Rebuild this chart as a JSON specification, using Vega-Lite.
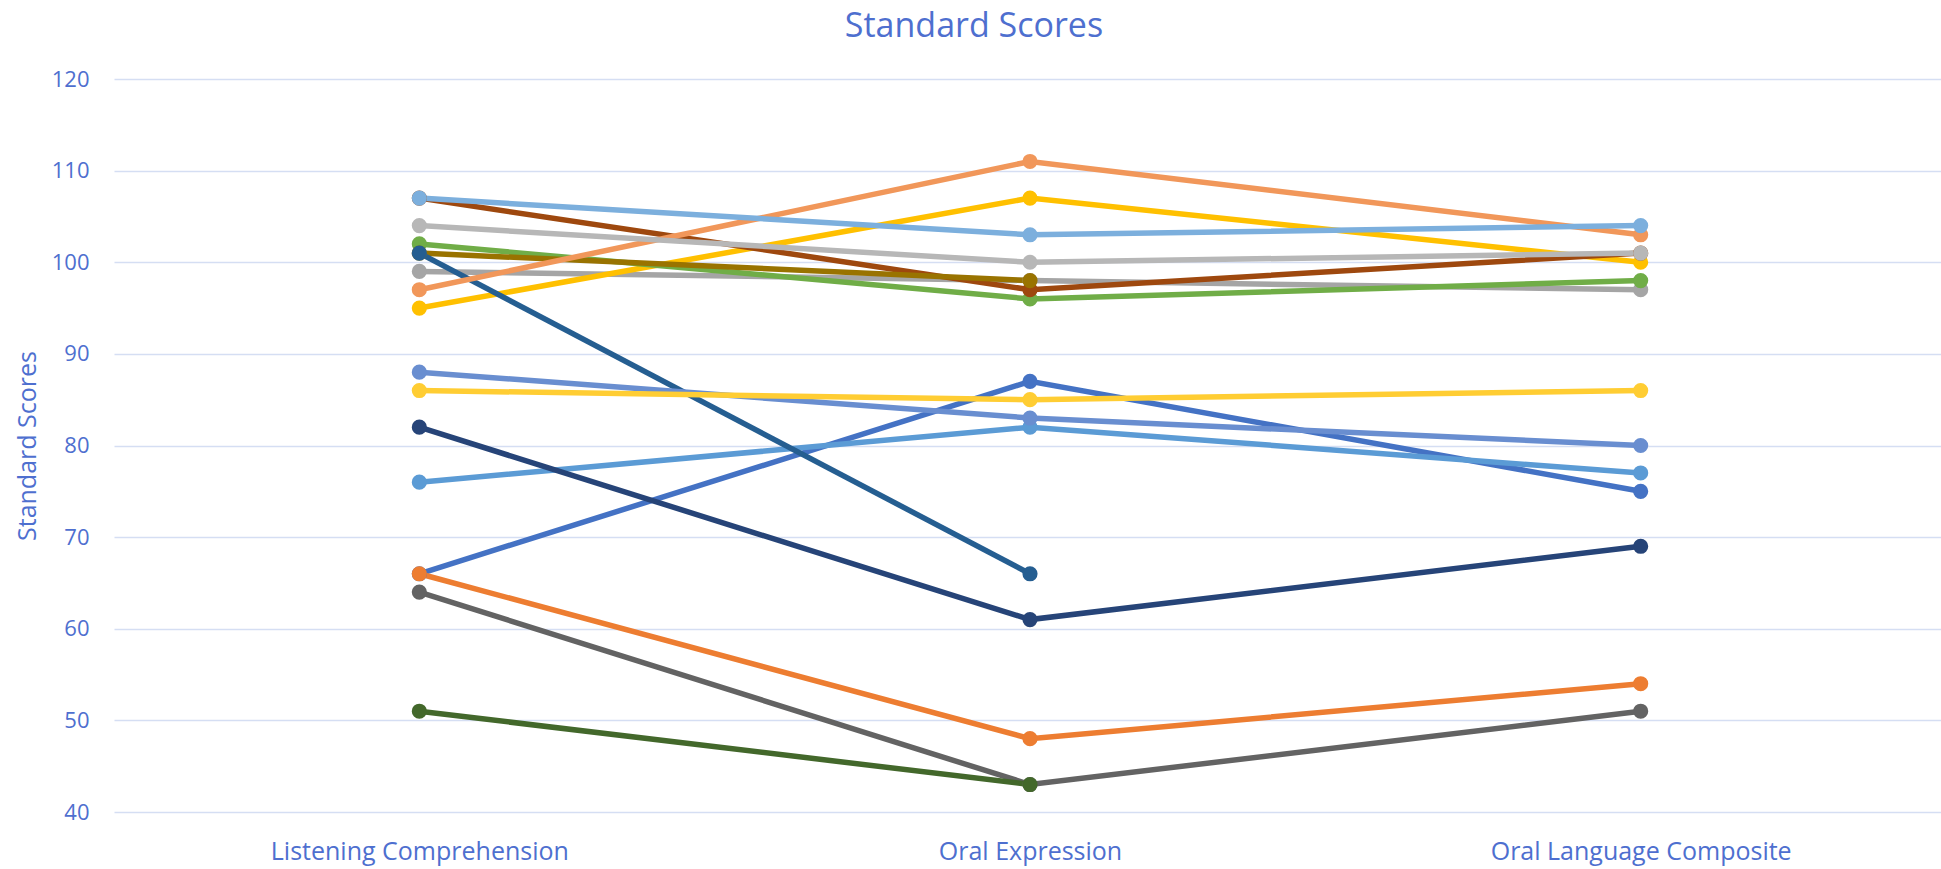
{
  "$schema": "https://vega.github.io/schema/vega-lite/v6.json",
  "autosize": {"type": "none"},
  "padding": {"left": 114, "top": 79, "right": 0, "bottom": 57},
  "width": 1832,
  "height": 733,
  "background": "white",
  "title": {
    "text": "Standard Scores",
    "font": "Open Sans",
    "fontSize": 34,
    "fontWeight": "normal",
    "color": "#4E6FCF",
    "anchor": "middle",
    "frame": "group",
    "dx": -56,
    "offset": 24
  },
  "data": {
    "values": [
      {"series": "Series 1", "test": "Listening Comprehension", "score": 66},
      {"series": "Series 1", "test": "Oral Expression", "score": 87},
      {"series": "Series 1", "test": "Oral Language Composite", "score": 75},
      {"series": "Series 2", "test": "Listening Comprehension", "score": 66},
      {"series": "Series 2", "test": "Oral Expression", "score": 48},
      {"series": "Series 2", "test": "Oral Language Composite", "score": 54},
      {"series": "Series 3", "test": "Listening Comprehension", "score": 99},
      {"series": "Series 3", "test": "Oral Expression", "score": 98},
      {"series": "Series 3", "test": "Oral Language Composite", "score": 97},
      {"series": "Series 4", "test": "Listening Comprehension", "score": 95},
      {"series": "Series 4", "test": "Oral Expression", "score": 107},
      {"series": "Series 4", "test": "Oral Language Composite", "score": 100},
      {"series": "Series 5", "test": "Listening Comprehension", "score": 76},
      {"series": "Series 5", "test": "Oral Expression", "score": 82},
      {"series": "Series 5", "test": "Oral Language Composite", "score": 77},
      {"series": "Series 6", "test": "Listening Comprehension", "score": 102},
      {"series": "Series 6", "test": "Oral Expression", "score": 96},
      {"series": "Series 6", "test": "Oral Language Composite", "score": 98},
      {"series": "Series 7", "test": "Listening Comprehension", "score": 82},
      {"series": "Series 7", "test": "Oral Expression", "score": 61},
      {"series": "Series 7", "test": "Oral Language Composite", "score": 69},
      {"series": "Series 8", "test": "Listening Comprehension", "score": 107},
      {"series": "Series 8", "test": "Oral Expression", "score": 97},
      {"series": "Series 8", "test": "Oral Language Composite", "score": 101},
      {"series": "Series 9", "test": "Listening Comprehension", "score": 64},
      {"series": "Series 9", "test": "Oral Expression", "score": 43},
      {"series": "Series 9", "test": "Oral Language Composite", "score": 51},
      {"series": "Series 10", "test": "Listening Comprehension", "score": 101},
      {"series": "Series 10", "test": "Oral Expression", "score": 98},
      {"series": "Series 11", "test": "Listening Comprehension", "score": 101},
      {"series": "Series 11", "test": "Oral Expression", "score": 66},
      {"series": "Series 12", "test": "Listening Comprehension", "score": 51},
      {"series": "Series 12", "test": "Oral Expression", "score": 43},
      {"series": "Series 13", "test": "Listening Comprehension", "score": 88},
      {"series": "Series 13", "test": "Oral Expression", "score": 83},
      {"series": "Series 13", "test": "Oral Language Composite", "score": 80},
      {"series": "Series 14", "test": "Listening Comprehension", "score": 97},
      {"series": "Series 14", "test": "Oral Expression", "score": 111},
      {"series": "Series 14", "test": "Oral Language Composite", "score": 103},
      {"series": "Series 15", "test": "Listening Comprehension", "score": 104},
      {"series": "Series 15", "test": "Oral Expression", "score": 100},
      {"series": "Series 15", "test": "Oral Language Composite", "score": 101},
      {"series": "Series 16", "test": "Listening Comprehension", "score": 86},
      {"series": "Series 16", "test": "Oral Expression", "score": 85},
      {"series": "Series 16", "test": "Oral Language Composite", "score": 86},
      {"series": "Series 17", "test": "Listening Comprehension", "score": 107},
      {"series": "Series 17", "test": "Oral Expression", "score": 103},
      {"series": "Series 17", "test": "Oral Language Composite", "score": 104}
    ]
  },
  "encoding": {
    "x": {
      "field": "test",
      "type": "nominal",
      "sort": ["Listening Comprehension", "Oral Expression", "Oral Language Composite"],
      "scale": {"type": "point", "padding": 0.5},
      "axis": {
        "title": null,
        "labelAngle": 0,
        "labelLimit": 0,
        "labelFont": "Open Sans",
        "labelFontSize": 25,
        "labelColor": "#4E6FCF",
        "labelPadding": 27,
        "domain": false,
        "ticks": false,
        "grid": false
      }
    },
    "y": {
      "field": "score",
      "type": "quantitative",
      "scale": {"domain": [40, 120], "nice": false, "zero": false},
      "axis": {
        "title": "Standard Scores",
        "titleFont": "Open Sans",
        "titleFontSize": 25,
        "titleFontWeight": "normal",
        "titleColor": "#4E6FCF",
        "titlePadding": 11,
        "values": [40, 50, 60, 70, 80, 90, 100, 110, 120],
        "labelFont": "Open Sans",
        "labelFontSize": 22,
        "labelColor": "#4E6FCF",
        "labelPadding": 25,
        "domain": false,
        "ticks": false,
        "grid": true,
        "gridColor": "#D5DEF3",
        "gridWidth": 1.6
      }
    },
    "color": {
      "field": "series",
      "type": "nominal",
      "legend": null,
      "scale": {
        "domain": ["Series 1","Series 2","Series 3","Series 4","Series 5","Series 6","Series 7","Series 8","Series 9","Series 10","Series 11","Series 12","Series 13","Series 14","Series 15","Series 16","Series 17"],
        "range": ["#4472C4","#ED7D31","#A5A5A5","#FFC000","#5B9BD5","#70AD47","#264478","#9E480E","#636363","#997300","#255E91","#43682B","#698ED0","#F1975A","#B7B7B7","#FFCD33","#7CAFDD"]
      }
    }
  },
  "layer": [
    {"mark": {"type": "line", "strokeWidth": 5.5, "clip": false}},
    {"mark": {"type": "point", "filled": true, "opacity": 1, "size": 230, "clip": false}}
  ],
  "config": {"view": {"stroke": null}}
}
